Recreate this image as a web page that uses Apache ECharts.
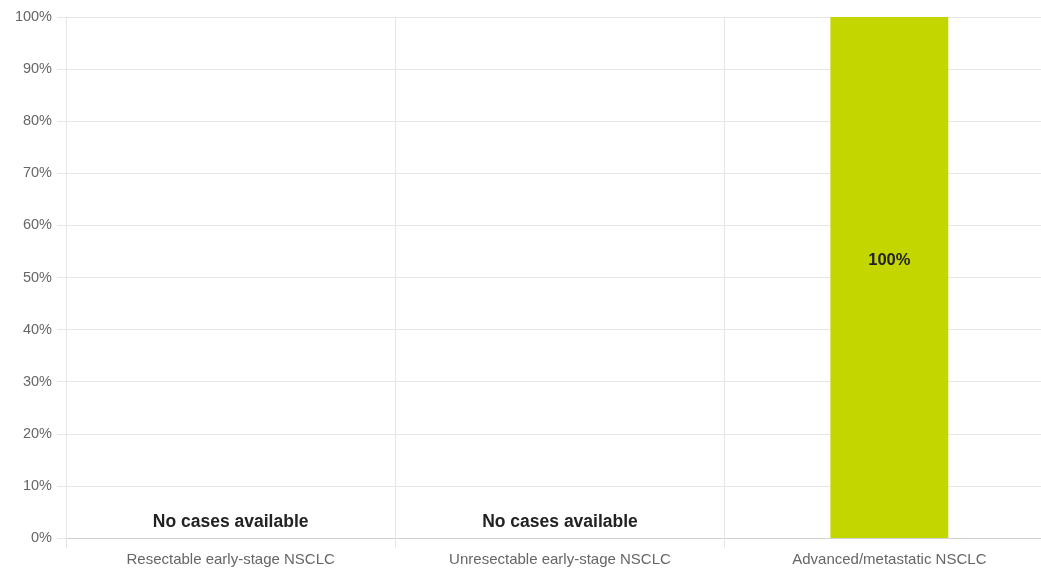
<!DOCTYPE html>
<html>
<head>
<meta charset="utf-8">
<script src="https://cdn.jsdelivr.net/npm/echarts@6/dist/echarts.min.js"></script>
<style>
  html, body { margin: 0; padding: 0; background: #fff; overflow: hidden; }
  #chart { width: 1060px; height: 568px; }
</style>
</head>
<body>
<div id="chart"></div>
<script>
// Share of cases per NSCLC stage (%)
const categories = ['Resectable early-stage NSCLC', 'Unresectable early-stage NSCLC', 'Advanced/metastatic NSCLC'];
const shares = [0, 0, 100];
const emptyText = 'No cases available';
const yTicks = { min: 0, max: 100, interval: 10 };

const chart = echarts.init(document.getElementById('chart'), null, { renderer: 'canvas' });

const gridColor = '#e6e6e6';
const fontFamily = '"Liberation Sans", Arial, sans-serif';

chart.setOption({
  animation: false,
  grid: { left: 66, right: 6, top: 17, bottom: 30, containLabel: false },
  xAxis: {
    type: 'category',
    data: categories,
    axisLine: { lineStyle: { color: '#d0d0d0', width: 1 } },
    axisTick: { show: true, length: 10, alignWithLabel: false, lineStyle: { color: gridColor } },
    splitLine: { show: true, lineStyle: { color: gridColor } },
    axisLabel: { color: '#666', fontSize: 15, fontFamily, margin: 14 }
  },
  yAxis: {
    type: 'value',
    min: yTicks.min,
    max: yTicks.max,
    interval: yTicks.interval,
    axisLine: { show: true, lineStyle: { color: gridColor } },
    axisTick: { show: true, length: 9, lineStyle: { color: gridColor } },
    splitLine: { lineStyle: { color: gridColor } },
    axisLabel: { color: '#666', fontSize: 14.5, fontFamily, margin: 14, formatter: '{value}%' }
  },
  series: [{
    type: 'bar',
    // Empty categories get a note just above the baseline, the filled bar its value inside.
    data: shares.map(v => v === 0
      ? { value: v, label: { position: 'top', distance: 7, fontSize: 17.5 } }
      : { value: v, label: { position: 'inside', offset: [0, -17], fontSize: 16.5 } }),
    barWidth: '35.8%',
    itemStyle: { color: '#c4d600' },
    label: {
      show: true,
      fontFamily,
      fontWeight: 'bold',
      color: '#222',
      formatter: p => p.value === 0 ? emptyText : p.value + '%'
    }
  }]
});
</script>
</body>
</html>
